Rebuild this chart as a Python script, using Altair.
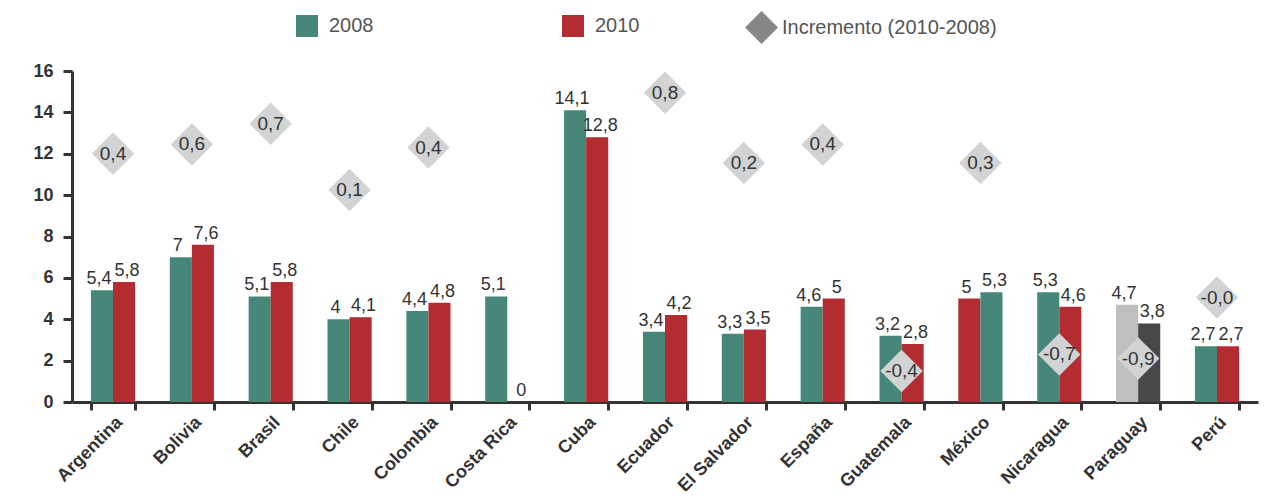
import altair as alt
import pandas as pd

# ---------------- data ----------------
paises = ["Argentina", "Bolivia", "Brasil", "Chile", "Colombia", "Costa Rica", "Cuba",
          "Ecuador", "El Salvador", "España", "Guatemala", "México", "Nicaragua",
          "Paraguay", "Perú"]

# first and second bar of each country, as drawn (left, right)
barra_izq = [5.4, 7.0, 5.1, 4.0, 4.4, 5.1, 14.1, 3.4, 3.3, 4.6, 3.2, 5.0, 5.3, 4.7, 2.7]
barra_der = [5.8, 7.6, 5.8, 4.1, 4.8, 0.0, 12.8, 4.2, 3.5, 5.0, 2.8, 5.3, 4.6, 3.8, 2.7]

VERDE, ROJO = "#46877a", "#b22c32"
GRIS_CLARO, GRIS_OSCURO = "#bdbfc1", "#48484a"
tono_izq = [VERDE] * 11 + [ROJO, VERDE, GRIS_CLARO, VERDE]
tono_der = [ROJO] * 11 + [VERDE, ROJO, GRIS_OSCURO, ROJO]

# increments (2010-2008) and the height at which each diamond is drawn
incremento = [0.4, 0.6, 0.7, 0.1, 0.4, None, None, 0.8, 0.2, 0.4, -0.4, 0.3, -0.7, -0.9, -0.04]
altura_rombo = [12.0, 12.45, 13.45, 10.25, 12.3, None, None, 14.95, 11.55, 12.45, 1.5,
                11.55, 2.3, 2.1, 5.05]

series_leyenda = ["2008", "2010"]
tipo_rombo = "Incremento (2010-2008)"

# ---------------- tables ----------------
filas = []
for p, a, b, ta, tb in zip(paises, barra_izq, barra_der, tono_izq, tono_der):
    filas.append({"pais": p, "pos": 0, "valor": a, "tono": ta})
    filas.append({"pais": p, "pos": 1, "valor": b, "tono": tb})
df_barras = pd.DataFrame(filas)

df_rombos = pd.DataFrame({"pais": paises, "inc": incremento, "altura": altura_rombo}).dropna()

df_ley_color = pd.DataFrame({"serie": series_leyenda, "pais": paises[0], "altura": -5})
df_ley_forma = pd.DataFrame({"tipo": [tipo_rombo], "pais": paises[0], "altura": -5})

FONT = "Liberation Sans, Arial, sans-serif"
TXT = "#333333"

x_enc = alt.X("pais:N", sort=paises,
              scale=alt.Scale(paddingInner=0.44, paddingOuter=0.24),
              axis=alt.Axis(title=None, labelAngle=-45, tickBand="extent", tickSize=8,
                            tickWidth=3, tickColor=TXT, domainColor=TXT, domainWidth=3,
                            labelFont=FONT, labelFontWeight="bold", labelFontSize=18,
                            labelColor=TXT, labelPadding=3))
y_scale = alt.Scale(domain=[0, 16], nice=False, zero=True)


def y_enc(field):
    return alt.Y(f"{field}:Q", scale=y_scale,
                 axis=alt.Axis(title=None, values=list(range(0, 17, 2)), grid=False,
                               tickSize=9, tickWidth=3, tickColor=TXT, domainColor=TXT,
                               domainWidth=3, labelFont=FONT, labelFontWeight="bold",
                               labelFontSize=18, labelColor=TXT, labelPadding=10))


xoff = alt.XOffset("pos:N", scale=alt.Scale(paddingInner=0, paddingOuter=0))

barras = alt.Chart(df_barras).mark_bar().encode(
    x=x_enc, xOffset=xoff, y=y_enc("valor"),
    fill=alt.Fill("tono:N", scale=None),
)


def etiquetas_barra(pos, dx):
    return alt.Chart(df_barras).transform_filter(
        f"datum.pos == {pos}"
    ).transform_calculate(
        etiqueta="replace(format(datum.valor, '.1~f'), '.', ',')"
    ).mark_text(baseline="alphabetic", dy=-6, dx=dx, font=FONT, fontSize=18,
                color=TXT).encode(
        x=x_enc, xOffset=xoff, y=y_enc("valor"), text="etiqueta:N"
    )


rombos = alt.Chart(df_rombos).mark_point(
    shape="diamond", filled=True, size=1800, color="#d1d3d4", opacity=1
).encode(x=x_enc, y=y_enc("altura"))

rombos_txt = alt.Chart(df_rombos).transform_calculate(
    etiqueta="(datum.inc < 0 ? '-' : '') + replace(format(abs(datum.inc), '.1f'), '.', ',')"
).mark_text(baseline="middle", font=FONT, fontSize=19, color=TXT).encode(
    x=x_enc, y=y_enc("altura"), text="etiqueta:N"
)

ley_color = alt.Chart(df_ley_color).mark_point(
    shape="square", filled=True, clip=True, opacity=1
).encode(
    x=x_enc, y=y_enc("altura"),
    color=alt.Color("serie:N", scale=alt.Scale(domain=series_leyenda, range=[VERDE, ROJO]),
                    legend=alt.Legend(title=None, orient="none", legendX=224, legendY=-56,
                                      direction="horizontal", symbolType="square",
                                      symbolSize=484, symbolStrokeWidth=0,
                                      labelFont=FONT, labelFontSize=20, labelColor="#555555",
                                      labelOffset=11, columnPadding=188, padding=0,
                                      labelLimit=400)),
)

ley_forma = alt.Chart(df_ley_forma).mark_point(
    filled=True, clip=True, opacity=1, color="#878787"
).encode(
    x=x_enc, y=y_enc("altura"),
    shape=alt.Shape("tipo:N", scale=alt.Scale(domain=[tipo_rombo], range=["diamond"]),
                    legend=alt.Legend(title=None, orient="none", legendX=673, legendY=-60,
                                      symbolSize=1089, symbolFillColor="#878787",
                                      symbolStrokeWidth=0,
                                      labelFont=FONT, labelFontSize=20, labelColor="#555555",
                                      labelOffset=4, padding=0, labelLimit=400)),
)

chart = alt.layer(barras, etiquetas_barra(0, -3), etiquetas_barra(1, 3), rombos, rombos_txt,
                  ley_color, ley_forma).properties(
    width=1186, height=331,
    autosize=alt.AutoSizeParams(type="none"),
    padding={"left": 64, "top": 63, "right": 3, "bottom": 89},
).configure_view(stroke=None)

chart.save("out.html", embed_options={"renderer": "svg", "actions": False})
